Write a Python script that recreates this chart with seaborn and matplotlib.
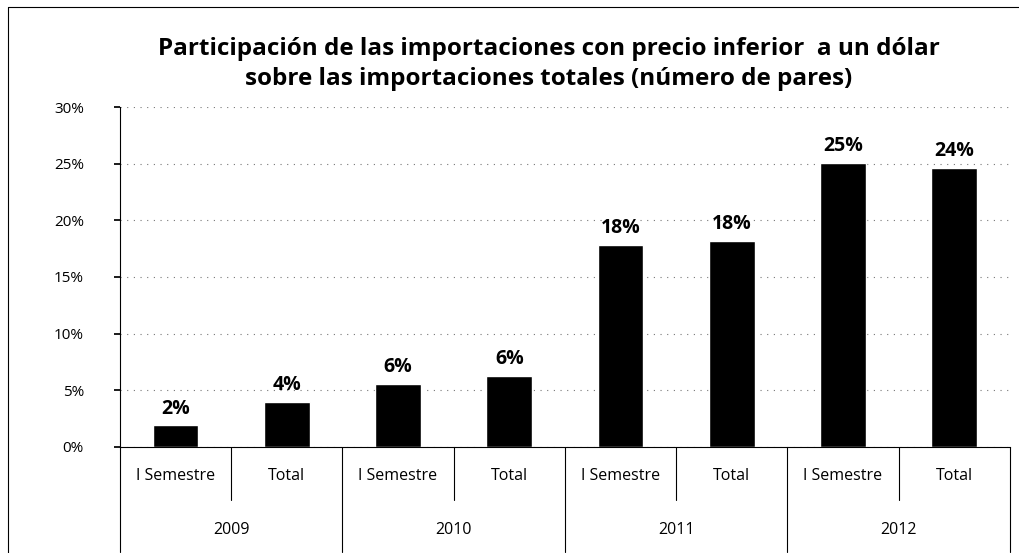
import matplotlib
matplotlib.use("Agg")
import matplotlib.pyplot as plt
import matplotlib.transforms as mtransforms
from matplotlib.ticker import PercentFormatter
import seaborn as sns
import pandas as pd

years = ["2009", "2010", "2011", "2012"]
periods = ["I Semestre", "Total"]
values = [1.9, 4.0, 5.6, 6.3, 17.8, 18.2, 25.1, 24.6]
labels = ["2%", "4%", "6%", "6%", "18%", "18%", "25%", "24%"]
yticks = [0, 5, 10, 15, 20, 25, 30]

keys = [f"{y} {p}" for y in years for p in periods]
df = pd.DataFrame({"key": keys, "value": values})

sns.set_theme(style="white")
plt.rcParams["font.family"] = ["Open Sans", "DejaVu Sans"]
plt.rcParams["text.color"] = "black"
plt.rcParams["ytick.color"] = "black"
plt.rcParams["ytick.labelcolor"] = "black"

fig = plt.figure(figsize=(10.2, 5.53), dpi=100)
ax = fig.add_axes([0.1176, 0.1917, 0.8724, 0.6148])

sns.barplot(data=df, x="key", y="value", order=keys, color="black",
            width=0.41, saturation=1, ax=ax)

ax.set_ylim(0, 30)
ax.set_xlim(-0.5, len(keys) - 0.5)
ax.set_yticks(yticks)
ax.yaxis.set_major_formatter(PercentFormatter(decimals=0))
ax.tick_params(axis="y", labelsize=11, length=4, color="black", direction="out", left=True, pad=22)
ax.set_xticks([])
ax.set_xlabel("")
ax.set_ylabel("")
for s in ["top", "right"]:
    ax.spines[s].set_visible(False)
ax.spines["left"].set_color("black")
ax.spines["left"].set_linewidth(0.8)
ax.spines["bottom"].set_color("black")
ax.spines["bottom"].set_linewidth(0.8)
ax.yaxis.grid(True, linestyle=(0, (1, 5)), color="#777777", linewidth=0.8)
ax.set_axisbelow(True)

for i, (v, lab) in enumerate(zip(values, labels)):
    ax.text(i, v + 0.6, lab, ha="center", va="bottom", fontsize=14, fontweight="bold")

trans = mtransforms.blended_transform_factory(ax.transData, ax.transAxes)
for i, k in enumerate(keys):
    ax.text(i, -0.085, k.split(" ", 1)[1], transform=trans, ha="center", va="center", fontsize=11.5)
for j, y in enumerate(years):
    ax.text(2 * j + 0.5, -0.244, y, transform=trans, ha="center", va="center", fontsize=11.5)
for b in range(len(keys) + 1):
    x = b - 0.5
    bottom = -0.31 if b % 2 == 0 else -0.156
    ax.plot([x, x], [0, bottom], transform=trans, color="black", lw=0.8, clip_on=False)

fig.text(0.538, 0.884, "Participación de las importaciones con precio inferior  a un dólar\nsobre las importaciones totales (número de pares)",
         ha="center", va="center", fontsize=17.5, fontweight="bold", linespacing=1.3)

# outer frame
fig.add_artist(plt.Line2D([0.008, 0.008], [0, 0.987], color="black", lw=0.8))
fig.add_artist(plt.Line2D([0.008, 1.0], [0.987, 0.987], color="black", lw=0.8))

fig.savefig("out.png", dpi=100)
